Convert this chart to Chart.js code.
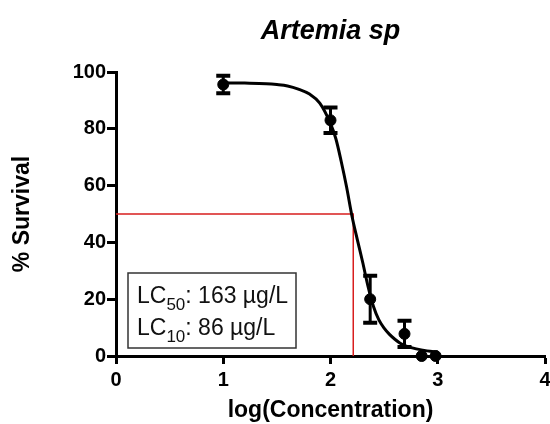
<!DOCTYPE html>
<html>
<head>
<meta charset="utf-8">
<title>Artemia sp</title>
<script src="https://cdn.jsdelivr.net/npm/chart.js@4.4.1/dist/chart.umd.min.js"></script>
<style>
  html, body { margin: 0; padding: 0; background: #fff; overflow: hidden; width: 550px; height: 424px; }
  canvas { display: block; }
</style>
</head>
<body>
<canvas id="chart" width="570" height="424"></canvas>
<script>
// Measured survival (mean ± error) at each log concentration
const logConc = [1.0, 2.0, 2.37, 2.69, 2.85, 2.98];
const survival = [95.6, 83.0, 20.0, 7.8, 0.0, 0.0];
const survivalErr = [3.1, 4.5, 8.3, 4.6, 0, 0];

// Fitted dose-response curve
const curveX = [1.0, 1.2, 1.4, 1.5, 1.6, 1.7, 1.8, 1.9, 2.0, 2.05, 2.1, 2.15, 2.2, 2.25, 2.3, 2.35, 2.4, 2.45, 2.5, 2.55, 2.6, 2.65, 2.7, 2.8, 2.9, 3.0];
const curveY = [96.2, 96.1, 95.9, 95.6, 95.1, 94.0, 92.3, 89.0, 81.8, 76.5, 68.5, 59.5, 49.3, 41.0, 33.0, 24.5, 17.5, 12.8, 9.8, 7.6, 5.9, 4.5, 3.6, 2.5, 1.8, 1.4];

// Lethal concentrations (µg/L)
const lc50 = 163;
const lc10 = 86;
const halfSurvival = 50;

const xTicks = [0, 1, 2, 3, 4];
const yTicks = [0, 20, 40, 60, 80, 100];

const FONT = "'Liberation Sans', Arial, Helvetica, sans-serif";

const errorBars = {
  id: 'errorBars',
  afterDatasetsDraw(chart) {
    const { ctx, scales: { x, y } } = chart;
    ctx.save();
    ctx.strokeStyle = '#000';
    logConc.forEach((lx, i) => {
      const e = survivalErr[i];
      if (!e) return;
      const px = x.getPixelForValue(lx);
      const top = y.getPixelForValue(survival[i] + e);
      const bot = y.getPixelForValue(survival[i] - e);
      ctx.lineWidth = 3;
      ctx.beginPath();
      ctx.moveTo(px, top);
      ctx.lineTo(px, bot);
      ctx.stroke();
      ctx.lineWidth = 4;
      ctx.beginPath();
      ctx.moveTo(px - 7, top);
      ctx.lineTo(px + 7, top);
      ctx.moveTo(px - 7, bot);
      ctx.lineTo(px + 7, bot);
      ctx.stroke();
    });
    ctx.restore();
  }
};

const lcBox = {
  id: 'lcBox',
  afterDraw(chart) {
    const { ctx, chartArea } = chart;
    const left = chartArea.left + 12;
    const top = chartArea.bottom - 83;
    const w = 168, h = 75;
    ctx.save();
    ctx.fillStyle = '#fff';
    ctx.fillRect(left, top, w, h);
    ctx.strokeStyle = '#333';
    ctx.lineWidth = 1.5;
    ctx.strokeRect(left, top, w, h);
    ctx.fillStyle = '#111';
    ctx.textBaseline = 'alphabetic';
    ctx.textAlign = 'left';
    const lines = [['50', lc50], ['10', lc10]];
    lines.forEach(([sub, val], i) => {
      const base = top + 30 + i * 32;
      let cx = left + 9;
      ctx.font = `23px ${FONT}`;
      ctx.fillText('LC', cx, base);
      cx += ctx.measureText('LC').width;
      ctx.font = `17px ${FONT}`;
      ctx.fillText(sub, cx, base + 7);
      cx += ctx.measureText(sub).width;
      ctx.font = `23px ${FONT}`;
      ctx.fillText(`: ${val} \u00B5g/L`, cx, base);
    });
    ctx.restore();
  }
};

const lc50Log = Math.log10(lc50);

new Chart(document.getElementById('chart'), {
  data: {
    datasets: [
      {
        type: 'line',
        data: [{ x: 0, y: halfSurvival }, { x: lc50Log, y: halfSurvival }, { x: lc50Log, y: 0 }],
        borderColor: '#d81e1e',
        borderWidth: 1.5,
        pointRadius: 0,
        tension: 0,
        order: 3
      },
      {
        type: 'line',
        data: curveX.map((v, i) => ({ x: v, y: curveY[i] })),
        borderColor: '#000',
        borderWidth: 3,
        pointRadius: 0,
        cubicInterpolationMode: 'monotone',
        clip: false,
        order: 2
      },
      {
        type: 'scatter',
        data: logConc.map((v, i) => ({ x: v, y: survival[i] })),
        backgroundColor: '#000',
        borderColor: '#000',
        pointRadius: 5.5,
        clip: false,
        order: 1
      }
    ]
  },
  options: {
    responsive: false,
    animation: false,
    events: [],
    layout: { padding: { left: 0, right: 25, top: 0, bottom: 0 } },
    plugins: {
      legend: { display: false },
      tooltip: { enabled: false },
      title: {
        display: true,
        text: 'Artemia sp',
        fullSize: false,
        color: '#000',
        font: { family: FONT, size: 27, weight: 'bold', style: 'italic' },
        padding: { top: 15, bottom: 24.6 }
      }
    },
    scales: {
      x: {
        type: 'linear',
        min: 0,
        max: 4,
        afterBuildTicks: s => { s.ticks = xTicks.map(v => ({ value: v })); },
        afterFit: s => { s.height = 68; },
        grid: { display: true, drawOnChartArea: false, drawTicks: true, tickLength: 8, tickWidth: 3, tickColor: '#000' },
        border: { display: true, width: 3, color: '#000' },
        ticks: { color: '#000', padding: 4, font: { family: FONT, size: 20, weight: 'bold' } },
        title: {
          display: true,
          text: 'log(Concentration)',
          color: '#000',
          font: { family: FONT, size: 23, weight: 'bold' },
          padding: { top: 0, bottom: 0 }
        }
      },
      y: {
        type: 'linear',
        min: 0,
        max: 100,
        afterBuildTicks: s => { s.ticks = yTicks.map(v => ({ value: v })); },
        afterFit: s => { s.width = 116; },
        grid: { display: true, drawOnChartArea: false, drawTicks: true, tickLength: 9, tickWidth: 3, tickColor: '#000' },
        border: { display: true, width: 3, color: '#000' },
        ticks: { color: '#000', padding: 1, font: { family: FONT, size: 20, weight: 'bold' } },
        title: {
          display: true,
          text: '% Survival',
          color: '#000',
          font: { family: FONT, size: 23, weight: 'bold' },
          padding: { top: 9, bottom: 0 }
        }
      }
    }
  },
  plugins: [errorBars, lcBox]
});
</script>
</body>
</html>
